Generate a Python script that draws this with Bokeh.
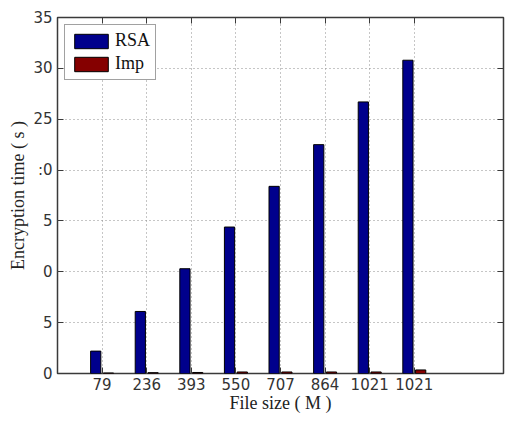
import numpy as np
from bokeh.plotting import figure
from bokeh.models import (ColumnDataSource, FixedTicker, LinearAxis, Range1d,
                          Legend, LegendItem)
from bokeh.transform import dodge
from bokeh.embed import file_html
from bokeh.resources import INLINE

# ---- data ----
file_sizes = ["79", "236", "393", "550", "707", "864", "1021", "1021"]
rsa_time = [2.2, 6.1, 10.3, 14.4, 18.4, 22.5, 26.7, 30.8]
imp_time = [0.05, 0.08, 0.10, 0.15, 0.15, 0.15, 0.15, 0.35]
y_tick_values = [0, 5, 10, 15, 20, 25, 30, 35]
y_tick_labels = ["0", "5", "0", "5", ":0", "25", "30", "35"]

pos = list(range(1, len(file_sizes) + 1))
src = ColumnDataSource(dict(x=pos, rsa=rsa_time, imp=imp_time))

SERIF = "Liberation Serif"
SANS = "DejaVu Sans"

p = figure(width=505, height=415, output_backend="svg", toolbar_location=None,
           x_range=Range1d(0, 10), y_range=Range1d(0, 35),
           min_border_left=57, min_border_right=2, min_border_top=17,
           min_border_bottom=41)
p.background_fill_color = "white"
p.border_fill_color = "white"
p.outline_line_color = "#3a3a3a"
p.outline_line_width = 1.5

bw = 0.229
r_rsa = p.vbar(x=dodge("x", -0.143), top="rsa", width=bw, source=src,
               fill_color="#00008C", line_color="black", line_width=1)
r_imp = p.vbar(x=dodge("x", 0.143), top="imp", width=bw, source=src,
               fill_color="#850000", line_color="black", line_width=1)

# axes
xt = FixedTicker(ticks=pos)
yt = FixedTicker(ticks=y_tick_values)
xa = p.xaxis[0]
ya = p.yaxis[0]
xa.ticker = xt
ya.ticker = yt
xa.major_label_overrides = {i: s for i, s in zip(pos, file_sizes)}
ya.major_label_overrides = {v: s for v, s in zip(y_tick_values, y_tick_labels)}
for ax in (xa, ya):
    ax.axis_line_color = None
    ax.major_tick_in = 6
    ax.major_tick_out = 0
    ax.major_tick_line_color = "#3a3a3a"
    ax.minor_tick_line_color = None
    ax.major_label_text_font = SANS
    ax.major_label_text_font_size = "15px"
    ax.major_label_text_color = "#333333"
    ax.axis_label_text_font = SERIF
    ax.axis_label_text_font_size = "18px"
    ax.axis_label_text_font_style = "normal"
    ax.axis_label_text_color = "#222222"
xa.axis_label = "File size ( M )"
ya.axis_label = "Encryption time ( s )"
xa.major_label_standoff = 4
xa.axis_label_standoff = 0
ya.major_label_standoff = 5
ya.axis_label_standoff = 2

# mirrored ticks on top and right (no labels drawn)
top = LinearAxis(ticker=FixedTicker(ticks=pos), axis_line_color=None,
                 major_tick_in=6, major_tick_out=0, minor_tick_line_color=None,
                 major_tick_line_color="#3a3a3a",
                 major_label_text_color=None,
                 major_label_text_font_size="0px", major_label_standoff=0)
right = LinearAxis(ticker=FixedTicker(ticks=y_tick_values), axis_line_color=None,
                   major_tick_in=6, major_tick_out=0, minor_tick_line_color=None,
                   major_tick_line_color="#3a3a3a",
                   major_label_text_color=None,
                   major_label_text_font_size="0px", major_label_standoff=0)
p.add_layout(top, "above")
p.add_layout(right, "right")

# grid
for g in (p.xgrid[0], p.ygrid[0]):
    g.grid_line_color = "#8c8c8c"
    g.grid_line_dash = "1 3"
    g.grid_line_width = 1
p.xgrid[0].ticker = xt
p.ygrid[0].ticker = yt

legend = Legend(items=[LegendItem(label="RSA", renderers=[r_rsa]),
                       LegendItem(label="Imp", renderers=[r_imp])],
                location="top_left")
legend.margin = 7
legend.padding = 5
legend.spacing = 2
legend.glyph_width = 42
legend.glyph_height = 18
legend.label_height = 20
legend.label_standoff = 3
legend.label_text_font = SERIF
legend.label_text_font_size = "18px"
legend.label_text_color = "#111111"
legend.border_line_color = "#444444"
legend.border_line_width = 1.5
legend.background_fill_color = "white"
legend.background_fill_alpha = 1
p.add_layout(legend)

open("out.html", "w").write(file_html(p, INLINE))
